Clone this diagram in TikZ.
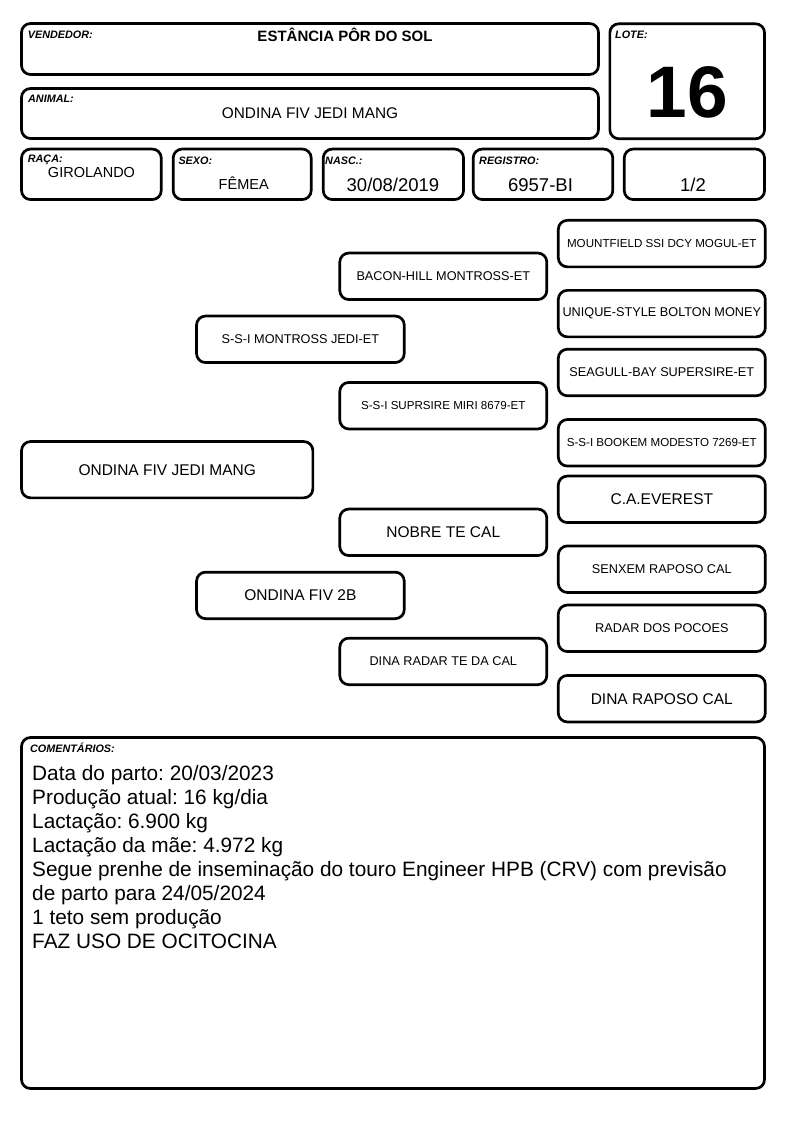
\documentclass[tikz,border=0pt]{standalone}
\usepackage{fontspec}
\setmainfont{Liberation Sans}
\usepackage{tikz}
\frenchspacing

\tikzset{
  box/.style={draw, line width=2.7pt, rounded corners=9pt, inner sep=0pt},
  ped/.style={box, minimum width=207pt, minimum height=46.5pt},
  tag/.style={anchor=base west, inner sep=0pt, font=\fontsize{10.8}{12}\selectfont\bfseries\itshape},
  val/.style={anchor=base, inner sep=0pt, font=\fontsize{14.5}{17}\selectfont},
  pedxs/.style={font=\fontsize{11.6}{14}\selectfont},
  peds/.style={font=\fontsize{12.7}{15}\selectfont},
  pedl/.style={font=\fontsize{15.5}{18}\selectfont}
}

\begin{document}
\begin{tikzpicture}[x=1pt, y=-1pt]
			\useasboundingbox (0,0) rectangle (794,1123);
			% cabecalho
			\node[box, minimum width=577pt, minimum height=51pt] (vendedor) at (310,49) {};
			\node[box, minimum width=577pt, minimum height=50pt] (animal) at (310,113.5) {};
			\node[box, minimum width=154.7pt, minimum height=115pt] (lote) at (687.2,81.3) {};
			\node[box, minimum width=139.7pt, minimum height=50.5pt] (raca) at (91.4,174.3) {};
			\node[box, minimum width=138pt, minimum height=50.5pt] (sexo) at (242.2,174.3) {};
			\node[box, minimum width=140.3pt, minimum height=50.5pt] (nasc) at (393.4,174.3) {};
			\node[box, minimum width=139.6pt, minimum height=50.5pt] (registro) at (543,174.3) {};
			\node[box, minimum width=140.3pt, minimum height=50.5pt] (ordem) at (694.4,174.3) {};
			\node[tag] (vendedortag) at (27.7,38.3) {VENDEDOR:};
			\node[tag] (animaltag) at (28,103) {ANIMAL:};
			\node[tag] (lotetag) at (615,39) {LOTE:};
			\node[tag] (racatag) at (27.7,163) {RAÇA:};
			\node[tag] (sexotag) at (178.3,165) {SEXO:};
			\node[tag] (nasctag) at (325,165) {NASC.:};
			\node[tag] (registrotag) at (479,165) {REGISTRO:};
			\node[val, font=\fontsize{15}{18}\selectfont\bfseries] (vendedorval) at (345,42) {ESTÂNCIA PÔR DO SOL};
			\node[val, font=\fontsize{15.4}{18}\selectfont] (animalval) at (310,119) {ONDINA FIV JEDI MANG};
			\node[val, font=\fontsize{73}{80}\selectfont\bfseries] (loteval) at (687.5,118) {16};
			\node[val] (racaval) at (91.5,178) {GIROLANDO};
			\node[val] (sexoval) at (243.7,190) {FÊMEA};
			\node[val, font=\fontsize{18.5}{22}\selectfont] (nascval) at (393,191.5) {30/08/2019};
			\node[val, font=\fontsize{18.5}{22}\selectfont] (registroval) at (540.5,191.5) {6957-BI};
			\node[val, font=\fontsize{18.5}{22}\selectfont] (ordemval) at (693,191.5) {1/2};
			% genealogia
			\node[box, pedl, minimum width=291.3pt, minimum height=56.3pt] (ondina) at (167.2,469.7) {ONDINA FIV JEDI MANG};
			\node[ped, peds, minimum width=207.7pt] (pai) at (300.4,339.3) {S-S-I MONTROSS JEDI-ET};
			\node[ped, pedl, minimum width=207.7pt] (mae) at (300.4,595.4) {ONDINA FIV 2B};
			\node[ped, peds] (avopp) at (443.3,276.3) {BACON-HILL MONTROSS-ET};
			\node[ped, pedxs] (avomp) at (443.3,405.7) {S-S-I SUPRSIRE MIRI 8679-ET};
			\node[ped, pedl] (avopm) at (443.3,532.3) {NOBRE TE CAL};
			\node[ped, peds] (avomm) at (443.3,661.4) {DINA RADAR TE DA CAL};
			\node[ped, pedxs] (bis1) at (661.8,243.6) {MOUNTFIELD SSI DCY MOGUL-ET};
			\node[ped, peds] (bis2) at (661.8,313.6) {UNIQUE-STYLE BOLTON MONEY};
			\node[ped, peds] (bis3) at (661.8,372.5) {SEAGULL-BAY SUPERSIRE-ET};
			\node[ped, pedxs] (bis4) at (661.8,442.8) {S-S-I BOOKEM MODESTO 7269-ET};
			\node[ped, pedl] (bis5) at (661.8,499.3) {C.A.EVEREST};
			\node[ped, peds] (bis6) at (661.8,569.2) {SENXEM RAPOSO CAL};
			\node[ped, peds] (bis7) at (661.8,628.3) {RADAR DOS POCOES};
			\node[ped, pedl] (bis8) at (661.8,698.7) {DINA RAPOSO CAL};
			% comentarios
			\node[box, minimum width=743pt, minimum height=351pt] (comentarios) at (393,913) {};
			\node[tag] (comentariostag) at (30,752.5) {COMENTÁRIOS:};
			\node[anchor=base west, inner sep=0pt, align=left, font=\fontsize{20.8}{24}\selectfont] (comentariosval) at (32,948) {Data do parto: 20/03/2023\\
				Produção atual: 16 kg/dia\\
				Lactação: 6.900 kg\\
				Lactação da mãe: 4.972 kg\\
				Segue prenhe de inseminação do touro Engineer HPB (CRV) com previsão\\
				de parto para 24/05/2024\\
				1 teto sem produção\\
				FAZ USO DE OCITOCINA};
		\end{tikzpicture}
\end{document}
